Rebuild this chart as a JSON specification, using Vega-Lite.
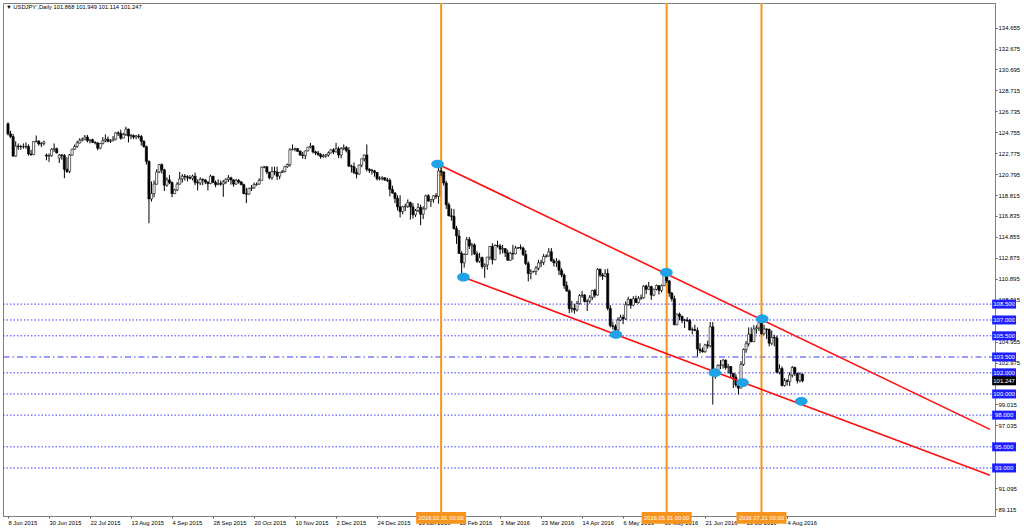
{
"$schema": "https://vega.github.io/schema/vega-lite/v6.json",
"width": 992, "height": 513,
"autosize": {"type": "none"},
"padding": {"left": 3, "top": 3, "right": 29, "bottom": 15},
"background": "white",
"config": {"view": {"stroke": "#7f7f7f", "strokeWidth": 1}, "font": "Liberation Sans", "axis": {"labelOverlap": false, "title": null, "grid": false, "labelFlush": false, "labelBound": false, "labelFont": "Liberation Sans", "labelColor": "black", "tickSize": 2, "tickColor": "#555", "labelPadding": 1, "domainColor": "#7f7f7f"}},
"title": {"text": "▼ USDJPY',Daily  101.868 101.949 101.114 101.247", "anchor": "start", "orient": "top", "frame": "group", "offset": -13, "baseline": "alphabetic", "fontSize": 5.8, "fontWeight": "normal", "font": "Liberation Sans", "color": "black", "dx": 3},
"datasets": {
"candles": [
{"i":0,"o":125.55,"h":125.70,"l":124.45,"c":124.60},
{"i":1,"o":124.60,"h":124.90,"l":124.20,"c":124.35},
{"i":2,"o":124.35,"h":124.60,"l":122.46,"c":122.50},
{"i":3,"o":122.50,"h":123.90,"l":122.45,"c":123.45},
{"i":4,"o":123.45,"h":123.70,"l":123.09,"c":123.39},
{"i":5,"o":123.39,"h":123.57,"l":123.10,"c":123.40},
{"i":6,"o":123.40,"h":123.70,"l":123.20,"c":123.39},
{"i":7,"o":123.39,"h":123.80,"l":123.20,"c":123.43},
{"i":8,"o":123.43,"h":123.60,"l":122.55,"c":122.70},
{"i":9,"o":122.70,"h":123.10,"l":122.55,"c":122.63},
{"i":10,"o":122.63,"h":123.90,"l":122.60,"c":123.88},
{"i":11,"o":123.88,"h":124.45,"l":123.80,"c":123.92},
{"i":12,"o":123.92,"h":124.00,"l":123.50,"c":123.65},
{"i":13,"o":123.65,"h":123.80,"l":123.35,"c":123.70},
{"i":14,"o":123.70,"h":123.95,"l":123.50,"c":123.85},
{"i":15,"o":122.60,"h":122.75,"l":122.10,"c":122.50},
{"i":16,"o":122.50,"h":122.75,"l":121.95,"c":122.55},
{"i":17,"o":122.55,"h":123.25,"l":122.45,"c":123.15},
{"i":18,"o":123.15,"h":123.70,"l":122.90,"c":123.20},
{"i":19,"o":123.20,"h":123.30,"l":122.75,"c":122.80},
{"i":20,"o":122.30,"h":122.70,"l":121.85,"c":122.60},
{"i":21,"o":122.60,"h":122.70,"l":122.15,"c":122.55},
{"i":22,"o":122.55,"h":122.70,"l":120.41,"c":121.25},
{"i":23,"o":121.25,"h":122.40,"l":120.90,"c":121.05},
{"i":24,"o":121.05,"h":122.70,"l":120.90,"c":122.60},
{"i":25,"o":122.60,"h":123.20,"l":122.55,"c":123.15},
{"i":26,"o":123.15,"h":123.60,"l":123.10,"c":123.40},
{"i":27,"o":123.40,"h":123.95,"l":123.30,"c":123.75},
{"i":28,"o":123.75,"h":124.20,"l":123.70,"c":124.00},
{"i":29,"o":124.00,"h":124.25,"l":123.90,"c":124.10},
{"i":30,"o":124.10,"h":124.50,"l":124.00,"c":124.30},
{"i":31,"o":124.30,"h":124.50,"l":123.80,"c":123.95},
{"i":32,"o":123.95,"h":124.10,"l":123.70,"c":124.05},
{"i":33,"o":124.05,"h":124.15,"l":123.75,"c":123.80},
{"i":34,"o":123.80,"h":123.90,"l":123.60,"c":123.75},
{"i":35,"o":123.75,"h":123.80,"l":123.05,"c":123.25},
{"i":36,"o":123.25,"h":123.75,"l":123.15,"c":123.70},
{"i":37,"o":123.70,"h":124.30,"l":123.60,"c":123.95},
{"i":38,"o":123.95,"h":124.55,"l":123.80,"c":124.10},
{"i":39,"o":124.10,"h":124.35,"l":123.80,"c":123.90},
{"i":40,"o":123.90,"h":124.10,"l":123.75,"c":123.95},
{"i":41,"o":123.95,"h":124.40,"l":123.90,"c":124.10},
{"i":42,"o":124.10,"h":124.75,"l":124.00,"c":124.70},
{"i":43,"o":124.70,"h":124.85,"l":124.40,"c":124.65},
{"i":44,"o":124.65,"h":125.00,"l":124.05,"c":124.20},
{"i":45,"o":124.20,"h":124.70,"l":124.20,"c":124.55},
{"i":46,"o":124.55,"h":125.28,"l":124.40,"c":125.05},
{"i":47,"o":125.05,"h":125.10,"l":123.80,"c":124.40},
{"i":48,"o":124.40,"h":124.60,"l":124.10,"c":124.45},
{"i":49,"o":124.45,"h":124.55,"l":124.10,"c":124.30},
{"i":50,"o":124.30,"h":124.50,"l":124.10,"c":124.40},
{"i":51,"o":124.40,"h":124.60,"l":124.15,"c":124.35},
{"i":52,"o":124.35,"h":124.50,"l":123.50,"c":123.90},
{"i":53,"o":123.90,"h":124.00,"l":123.30,"c":123.40},
{"i":54,"o":123.40,"h":123.50,"l":121.70,"c":122.00},
{"i":55,"o":122.00,"h":122.10,"l":116.15,"c":118.45},
{"i":56,"o":118.45,"h":120.10,"l":118.20,"c":118.95},
{"i":57,"o":118.95,"h":120.20,"l":118.60,"c":119.85},
{"i":58,"o":119.85,"h":121.25,"l":119.80,"c":121.00},
{"i":59,"o":121.00,"h":121.75,"l":120.90,"c":121.70},
{"i":60,"o":121.70,"h":121.80,"l":120.85,"c":121.20},
{"i":61,"o":121.20,"h":121.30,"l":119.20,"c":119.75},
{"i":62,"o":119.75,"h":120.50,"l":119.60,"c":120.25},
{"i":63,"o":120.25,"h":120.70,"l":119.85,"c":120.00},
{"i":64,"o":120.00,"h":120.10,"l":118.60,"c":118.95},
{"i":65,"o":118.95,"h":119.40,"l":118.90,"c":119.30},
{"i":66,"o":119.30,"h":120.05,"l":119.20,"c":119.85},
{"i":67,"o":119.85,"h":121.00,"l":119.80,"c":120.35},
{"i":68,"o":120.35,"h":120.80,"l":120.00,"c":120.60},
{"i":69,"o":120.60,"h":120.80,"l":120.20,"c":120.55},
{"i":70,"o":120.55,"h":120.70,"l":120.10,"c":120.45},
{"i":71,"o":120.45,"h":120.70,"l":120.30,"c":120.40},
{"i":72,"o":120.40,"h":120.75,"l":120.20,"c":120.60},
{"i":73,"o":120.60,"h":120.95,"l":119.75,"c":120.00},
{"i":74,"o":120.00,"h":120.30,"l":119.25,"c":119.95},
{"i":75,"o":119.95,"h":120.50,"l":119.75,"c":120.30},
{"i":76,"o":120.30,"h":120.40,"l":119.75,"c":120.25},
{"i":77,"o":120.25,"h":120.30,"l":119.85,"c":120.05},
{"i":78,"o":120.05,"h":120.10,"l":119.25,"c":119.90},
{"i":79,"o":119.90,"h":120.75,"l":119.85,"c":120.60},
{"i":80,"o":120.60,"h":120.60,"l":119.95,"c":120.00},
{"i":81,"o":120.00,"h":120.20,"l":119.55,"c":119.80},
{"i":82,"o":119.80,"h":120.30,"l":119.75,"c":119.90},
{"i":83,"o":119.90,"h":120.20,"l":119.70,"c":119.85},
{"i":84,"o":119.85,"h":120.25,"l":118.65,"c":120.05},
{"i":85,"o":120.05,"h":120.40,"l":119.85,"c":120.30},
{"i":86,"o":120.30,"h":120.70,"l":120.05,"c":120.45},
{"i":87,"o":120.45,"h":120.55,"l":119.80,"c":120.25},
{"i":88,"o":120.25,"h":120.30,"l":119.60,"c":119.85},
{"i":89,"o":119.85,"h":120.35,"l":119.80,"c":120.20},
{"i":90,"o":120.20,"h":120.35,"l":119.90,"c":120.05},
{"i":91,"o":120.05,"h":120.15,"l":119.75,"c":119.80},
{"i":92,"o":119.80,"h":119.90,"l":118.90,"c":118.95},
{"i":93,"o":118.95,"h":119.50,"l":118.05,"c":118.90},
{"i":94,"o":118.90,"h":119.50,"l":118.85,"c":119.45},
{"i":95,"o":119.45,"h":119.75,"l":119.20,"c":119.50},
{"i":96,"o":119.50,"h":120.00,"l":119.40,"c":119.80},
{"i":97,"o":119.80,"h":120.00,"l":119.70,"c":119.85},
{"i":98,"o":119.85,"h":120.40,"l":119.80,"c":120.20},
{"i":99,"o":120.20,"h":121.50,"l":120.20,"c":121.45},
{"i":100,"o":121.45,"h":121.55,"l":121.35,"c":121.50},
{"i":101,"o":121.50,"h":121.50,"l":120.80,"c":121.00},
{"i":102,"o":121.00,"h":121.00,"l":120.30,"c":120.45},
{"i":103,"o":120.45,"h":121.50,"l":120.25,"c":121.05},
{"i":104,"o":121.05,"h":121.50,"l":120.70,"c":121.00},
{"i":105,"o":121.00,"h":121.50,"l":120.25,"c":120.60},
{"i":106,"o":120.60,"h":121.00,"l":120.30,"c":120.95},
{"i":107,"o":120.95,"h":121.20,"l":120.90,"c":121.05},
{"i":108,"o":121.05,"h":121.55,"l":120.95,"c":121.50},
{"i":109,"o":121.50,"h":121.80,"l":121.40,"c":121.70},
{"i":110,"o":121.70,"h":123.25,"l":121.50,"c":123.10},
{"i":111,"o":123.10,"h":123.60,"l":123.05,"c":123.15},
{"i":112,"o":123.15,"h":123.30,"l":122.95,"c":123.20},
{"i":113,"o":123.20,"h":123.25,"l":122.90,"c":122.95},
{"i":114,"o":122.95,"h":123.05,"l":122.55,"c":122.60},
{"i":115,"o":122.60,"h":122.90,"l":122.25,"c":122.55},
{"i":116,"o":122.55,"h":123.00,"l":122.20,"c":123.00},
{"i":117,"o":123.00,"h":123.35,"l":122.95,"c":123.35},
{"i":118,"o":123.35,"h":123.75,"l":123.25,"c":123.45},
{"i":119,"o":123.45,"h":123.55,"l":122.75,"c":122.90},
{"i":120,"o":122.90,"h":123.00,"l":122.60,"c":122.80},
{"i":121,"o":122.80,"h":123.00,"l":122.50,"c":122.65},
{"i":122,"o":122.65,"h":122.80,"l":122.25,"c":122.45},
{"i":123,"o":122.45,"h":122.70,"l":122.35,"c":122.50},
{"i":124,"o":122.50,"h":122.70,"l":122.35,"c":122.60},
{"i":125,"o":122.60,"h":122.95,"l":122.45,"c":122.80},
{"i":126,"o":122.80,"h":123.15,"l":122.75,"c":123.10},
{"i":127,"o":123.10,"h":123.25,"l":122.70,"c":122.90},
{"i":128,"o":122.90,"h":123.75,"l":122.85,"c":123.20},
{"i":129,"o":123.20,"h":123.40,"l":122.30,"c":122.60},
{"i":130,"o":122.60,"h":123.35,"l":122.30,"c":123.20},
{"i":131,"o":123.20,"h":123.60,"l":123.05,"c":123.30},
{"i":132,"o":123.30,"h":123.45,"l":122.85,"c":123.05},
{"i":133,"o":123.05,"h":123.35,"l":121.50,"c":121.55},
{"i":134,"o":121.55,"h":121.70,"l":120.95,"c":121.50},
{"i":135,"o":121.50,"h":121.90,"l":120.80,"c":120.95},
{"i":136,"o":120.95,"h":121.35,"l":120.40,"c":120.80},
{"i":137,"o":120.80,"h":121.70,"l":120.75,"c":121.65},
{"i":138,"o":121.65,"h":122.25,"l":121.45,"c":122.25},
{"i":139,"o":122.25,"h":122.65,"l":122.00,"c":122.60},
{"i":140,"o":122.60,"h":123.60,"l":121.05,"c":121.25},
{"i":141,"o":121.25,"h":121.35,"l":120.90,"c":121.15},
{"i":142,"o":121.15,"h":121.30,"l":120.75,"c":121.10},
{"i":143,"o":121.10,"h":121.20,"l":120.55,"c":120.95},
{"i":144,"o":120.95,"h":121.00,"l":120.20,"c":120.35},
{"i":145,"o":120.35,"h":120.60,"l":120.20,"c":120.40},
{"i":146,"o":120.40,"h":120.60,"l":120.20,"c":120.45},
{"i":147,"o":120.45,"h":120.50,"l":120.15,"c":120.25},
{"i":148,"o":120.25,"h":120.45,"l":120.05,"c":120.20},
{"i":149,"o":120.20,"h":120.40,"l":118.70,"c":119.35},
{"i":150,"o":119.35,"h":119.70,"l":118.95,"c":119.00},
{"i":151,"o":119.00,"h":119.10,"l":118.05,"c":118.50},
{"i":152,"o":118.50,"h":118.80,"l":117.35,"c":117.70},
{"i":153,"o":117.70,"h":118.80,"l":116.70,"c":117.25},
{"i":154,"o":117.25,"h":117.80,"l":117.00,"c":117.70},
{"i":155,"o":117.70,"h":118.00,"l":117.30,"c":117.75},
{"i":156,"o":117.75,"h":118.40,"l":117.60,"c":118.10},
{"i":157,"o":118.10,"h":118.20,"l":116.50,"c":117.70},
{"i":158,"o":117.70,"h":118.05,"l":116.60,"c":116.95},
{"i":159,"o":116.95,"h":117.50,"l":116.75,"c":117.35},
{"i":160,"o":117.35,"h":118.05,"l":117.20,"c":117.65},
{"i":161,"o":117.65,"h":117.90,"l":115.97,"c":117.00},
{"i":162,"o":117.00,"h":117.75,"l":116.55,"c":117.50},
{"i":163,"o":117.50,"h":118.85,"l":117.45,"c":118.75},
{"i":164,"o":118.75,"h":118.90,"l":118.20,"c":118.25},
{"i":165,"o":118.25,"h":118.45,"l":117.70,"c":118.40},
{"i":166,"o":118.40,"h":118.80,"l":118.10,"c":118.75},
{"i":167,"o":118.75,"h":119.00,"l":118.45,"c":118.70},
{"i":168,"o":118.70,"h":121.69,"l":118.00,"c":121.10},
{"i":169,"o":121.10,"h":121.50,"l":120.60,"c":121.00},
{"i":170,"o":121.00,"h":121.05,"l":119.70,"c":119.95},
{"i":171,"o":119.95,"h":120.15,"l":117.50,"c":117.90},
{"i":172,"o":117.90,"h":118.10,"l":116.80,"c":116.85},
{"i":173,"o":116.85,"h":117.55,"l":116.40,"c":116.80},
{"i":174,"o":116.80,"h":117.50,"l":115.55,"c":115.65},
{"i":175,"o":115.65,"h":115.90,"l":114.20,"c":114.95},
{"i":176,"o":114.95,"h":115.50,"l":113.25,"c":113.30},
{"i":177,"o":113.30,"h":113.50,"l":110.98,"c":112.40},
{"i":178,"o":112.40,"h":113.30,"l":111.95,"c":113.20},
{"i":179,"o":113.20,"h":114.85,"l":113.15,"c":114.60},
{"i":180,"o":114.60,"h":114.85,"l":113.70,"c":114.00},
{"i":181,"o":114.00,"h":114.30,"l":113.10,"c":114.10},
{"i":182,"o":114.10,"h":114.25,"l":113.15,"c":113.25},
{"i":183,"o":113.25,"h":113.50,"l":112.40,"c":112.55},
{"i":184,"o":112.55,"h":113.35,"l":112.40,"c":112.90},
{"i":185,"o":112.90,"h":113.00,"l":111.85,"c":112.05},
{"i":186,"o":112.05,"h":112.35,"l":110.98,"c":112.20},
{"i":187,"o":112.20,"h":112.95,"l":111.75,"c":112.95},
{"i":188,"o":112.95,"h":114.00,"l":112.70,"c":113.95},
{"i":189,"o":113.95,"h":114.25,"l":112.25,"c":112.70},
{"i":190,"o":112.70,"h":114.15,"l":112.65,"c":114.05},
{"i":191,"o":114.05,"h":114.50,"l":113.85,"c":114.00},
{"i":192,"o":114.00,"h":114.20,"l":113.20,"c":113.70},
{"i":193,"o":113.70,"h":114.10,"l":113.30,"c":113.75},
{"i":194,"o":113.75,"h":113.80,"l":112.95,"c":113.35},
{"i":195,"o":113.35,"h":113.65,"l":112.60,"c":112.65},
{"i":196,"o":112.65,"h":113.45,"l":112.60,"c":113.30},
{"i":197,"o":113.30,"h":114.10,"l":112.70,"c":113.25},
{"i":198,"o":113.25,"h":114.00,"l":113.20,"c":113.80},
{"i":199,"o":113.80,"h":113.90,"l":113.70,"c":113.85},
{"i":200,"o":113.85,"h":114.15,"l":113.65,"c":113.80},
{"i":201,"o":113.80,"h":113.95,"l":113.05,"c":113.20},
{"i":202,"o":113.20,"h":113.60,"l":112.20,"c":112.35},
{"i":203,"o":112.35,"h":112.55,"l":110.65,"c":111.40},
{"i":204,"o":111.40,"h":111.80,"l":110.85,"c":111.55},
{"i":205,"o":111.55,"h":111.65,"l":111.50,"c":111.60},
{"i":206,"o":111.60,"h":112.10,"l":111.25,"c":111.90},
{"i":207,"o":111.90,"h":112.70,"l":111.70,"c":112.40},
{"i":208,"o":112.40,"h":112.70,"l":112.00,"c":112.45},
{"i":209,"o":112.45,"h":113.25,"l":112.20,"c":113.00},
{"i":210,"o":113.00,"h":113.20,"l":112.90,"c":113.05},
{"i":211,"o":113.05,"h":113.80,"l":113.00,"c":113.45},
{"i":212,"o":113.45,"h":113.80,"l":112.50,"c":112.60},
{"i":213,"o":112.60,"h":112.80,"l":112.05,"c":112.40},
{"i":214,"o":112.40,"h":112.85,"l":112.00,"c":112.55},
{"i":215,"o":112.55,"h":112.70,"l":111.25,"c":111.70},
{"i":216,"o":111.70,"h":111.90,"l":111.05,"c":111.25},
{"i":217,"o":111.25,"h":111.40,"l":109.95,"c":110.25},
{"i":218,"o":110.25,"h":110.65,"l":109.65,"c":109.75},
{"i":219,"o":109.75,"h":109.90,"l":107.65,"c":108.05},
{"i":220,"o":108.05,"h":108.80,"l":107.70,"c":108.10},
{"i":221,"o":108.10,"h":108.50,"l":107.60,"c":107.95},
{"i":222,"o":107.95,"h":108.80,"l":107.80,"c":108.55},
{"i":223,"o":108.55,"h":109.45,"l":108.45,"c":109.30},
{"i":224,"o":109.30,"h":109.75,"l":109.10,"c":109.35},
{"i":225,"o":109.35,"h":109.45,"l":108.65,"c":108.75},
{"i":226,"o":108.75,"h":108.95,"l":107.85,"c":108.80},
{"i":227,"o":108.80,"h":109.35,"l":108.55,"c":109.15},
{"i":228,"o":109.15,"h":109.85,"l":108.90,"c":109.80},
{"i":229,"o":109.80,"h":109.95,"l":109.10,"c":109.35},
{"i":230,"o":109.35,"h":111.90,"l":109.30,"c":111.80},
{"i":231,"o":111.80,"h":111.85,"l":111.05,"c":111.25},
{"i":232,"o":111.25,"h":111.45,"l":110.80,"c":111.15},
{"i":233,"o":111.15,"h":111.80,"l":111.05,"c":111.40},
{"i":234,"o":111.40,"h":111.85,"l":107.90,"c":108.10},
{"i":235,"o":108.10,"h":108.40,"l":106.30,"c":106.45},
{"i":236,"o":106.45,"h":106.85,"l":106.10,"c":106.40},
{"i":237,"o":106.40,"h":106.60,"l":105.55,"c":106.05},
{"i":238,"o":106.05,"h":107.25,"l":105.95,"c":107.00},
{"i":239,"o":107.00,"h":107.50,"l":106.90,"c":107.25},
{"i":240,"o":107.25,"h":107.50,"l":106.60,"c":107.10},
{"i":241,"o":107.10,"h":108.75,"l":107.00,"c":108.45},
{"i":242,"o":108.45,"h":109.20,"l":108.35,"c":108.95},
{"i":243,"o":108.95,"h":109.00,"l":108.05,"c":108.40},
{"i":244,"o":108.40,"h":109.25,"l":108.30,"c":109.00},
{"i":245,"o":109.00,"h":109.30,"l":108.60,"c":108.65},
{"i":246,"o":108.65,"h":109.25,"l":108.55,"c":109.05},
{"i":247,"o":109.05,"h":109.40,"l":108.90,"c":109.10},
{"i":248,"o":109.10,"h":110.30,"l":109.00,"c":110.20},
{"i":249,"o":110.20,"h":110.35,"l":109.45,"c":109.90},
{"i":250,"o":109.90,"h":110.60,"l":109.85,"c":110.15},
{"i":251,"o":110.15,"h":110.25,"l":108.90,"c":109.35},
{"i":252,"o":109.35,"h":109.95,"l":109.25,"c":109.90},
{"i":253,"o":109.90,"h":110.35,"l":109.80,"c":110.25},
{"i":254,"o":110.25,"h":110.25,"l":109.40,"c":109.80},
{"i":255,"o":109.80,"h":110.35,"l":109.60,"c":110.25},
{"i":256,"o":110.25,"h":111.40,"l":110.20,"c":111.30},
{"i":257,"o":111.30,"h":111.45,"l":110.50,"c":110.70},
{"i":258,"o":110.70,"h":110.75,"l":109.20,"c":109.55},
{"i":259,"o":109.55,"h":109.65,"l":108.75,"c":109.00},
{"i":260,"o":109.00,"h":109.30,"l":106.50,"c":106.55},
{"i":261,"o":106.55,"h":107.60,"l":106.50,"c":107.55},
{"i":262,"o":107.55,"h":107.70,"l":107.00,"c":107.35},
{"i":263,"o":107.35,"h":107.40,"l":106.70,"c":106.95},
{"i":264,"o":106.95,"h":107.10,"l":106.25,"c":107.00},
{"i":265,"o":107.00,"h":107.25,"l":106.80,"c":106.95},
{"i":266,"o":106.95,"h":107.10,"l":106.00,"c":106.05},
{"i":267,"o":106.05,"h":106.30,"l":105.65,"c":106.10},
{"i":268,"o":106.10,"h":106.55,"l":105.95,"c":106.00},
{"i":269,"o":106.00,"h":106.30,"l":103.55,"c":104.25},
{"i":270,"o":104.25,"h":104.80,"l":103.85,"c":104.10},
{"i":271,"o":104.10,"h":104.40,"l":103.90,"c":104.00},
{"i":272,"o":104.00,"h":104.75,"l":103.90,"c":104.65},
{"i":273,"o":104.65,"h":105.05,"l":104.30,"c":104.55},
{"i":274,"o":104.55,"h":106.80,"l":104.40,"c":106.35},
{"i":275,"o":106.35,"h":106.80,"l":99.00,"c":102.25},
{"i":276,"o":102.25,"h":102.40,"l":101.45,"c":101.85},
{"i":277,"o":101.85,"h":102.80,"l":101.80,"c":102.70},
{"i":278,"o":102.70,"h":103.20,"l":102.35,"c":102.75},
{"i":279,"o":102.75,"h":103.30,"l":102.40,"c":103.20},
{"i":280,"o":103.20,"h":103.25,"l":102.30,"c":102.50},
{"i":281,"o":102.50,"h":102.85,"l":101.95,"c":102.60},
{"i":282,"o":102.60,"h":102.65,"l":101.55,"c":101.95},
{"i":283,"o":101.95,"h":101.95,"l":100.55,"c":101.60},
{"i":284,"o":101.60,"h":101.90,"l":100.65,"c":100.85},
{"i":285,"o":100.85,"h":101.15,"l":99.95,"c":100.55},
{"i":286,"o":100.55,"h":103.10,"l":100.55,"c":102.80},
{"i":287,"o":102.80,"h":104.30,"l":102.65,"c":104.20},
{"i":288,"o":104.20,"h":105.00,"l":103.90,"c":104.75},
{"i":289,"o":104.75,"h":106.30,"l":104.50,"c":105.65},
{"i":290,"o":105.65,"h":106.30,"l":104.90,"c":104.95},
{"i":291,"o":104.95,"h":106.50,"l":104.90,"c":106.15},
{"i":292,"o":106.15,"h":106.50,"l":105.70,"c":106.25},
{"i":293,"o":106.25,"h":106.85,"l":105.95,"c":106.75},
{"i":294,"o":106.75,"h":107.50,"l":105.60,"c":105.70},
{"i":295,"o":105.70,"h":106.55,"l":105.55,"c":106.15},
{"i":296,"o":106.15,"h":106.20,"l":105.20,"c":106.10},
{"i":297,"o":106.10,"h":106.20,"l":104.50,"c":104.80},
{"i":298,"o":104.80,"h":106.00,"l":104.60,"c":105.35},
{"i":299,"o":105.35,"h":105.60,"l":104.50,"c":105.30},
{"i":300,"o":105.30,"h":105.50,"l":101.95,"c":102.05},
{"i":301,"o":102.05,"h":102.80,"l":101.85,"c":102.40},
{"i":302,"o":102.40,"h":102.60,"l":100.70,"c":100.80},
{"i":303,"o":100.80,"h":101.50,"l":100.70,"c":101.25},
{"i":304,"o":101.25,"h":101.40,"l":100.80,"c":101.20},
{"i":305,"o":101.20,"h":102.05,"l":100.75,"c":101.80},
{"i":306,"o":101.80,"h":102.65,"l":101.55,"c":102.50},
{"i":307,"o":102.50,"h":102.60,"l":101.70,"c":101.95},
{"i":308,"o":101.95,"h":102.00,"l":101.00,"c":101.25},
{"i":309,"o":101.25,"h":102.05,"l":101.10,"c":101.87},
{"i":310,"o":101.868,"h":101.949,"l":101.114,"c":101.247}
],
"levels": [
{"level":108.5,"style":"dot","t":"108.500"},
{"level":107.0,"style":"dot","t":"107.000"},
{"level":105.5,"style":"dot","t":"105.500"},
{"level":103.5,"style":"dashdot","t":"103.500"},
{"level":102.0,"style":"dot","t":"102.000"},
{"level":100.0,"style":"dot","t":"100.000"},
{"level":98.0,"style":"dot","t":"98.000"},
{"level":95.0,"style":"dot","t":"95.000"},
{"level":93.0,"style":"dot","t":"93.000"}
],
"price": [{"p":101.247,"t":"101.247"}],
"vlines": [
{"i":169,"label":"2016.02.01 00:00"},
{"i":257,"label":"2016.05.31 00:00"},
{"i":294,"label":"2016.07.21 00:00"}
],
"trend": [
{"line":"upper","i":167.6,"p":121.76},
{"line":"upper","i":383.16,"p":96.65},
{"line":"lower","i":177.7,"p":111.05},
{"line":"lower","i":383.16,"p":92.3}
],
"anchors": [
{"i":167.6,"p":121.76},
{"i":177.7,"p":111.05},
{"i":237.2,"p":105.62},
{"i":256.9,"p":111.5},
{"i":275.8,"p":102.0},
{"i":286.6,"p":101.07},
{"i":294.3,"p":107.1},
{"i":309.5,"p":99.3}
]
},
"layer": [
{
"data": {"name": "levels"},
"mark": {"type": "rule", "color": "#3a3aff", "strokeWidth": 1},
"encoding": {
"y": {"field": "level", "type": "quantitative", "scale": {"domain": [88.93, 136.51], "nice": false, "zero": false},
"axis": {"orient": "right", "tickCount": 40, "values": [134.655,132.675,130.695,128.715,126.735,124.755,122.775,120.795,118.815,116.835,114.855,112.875,110.895,108.915,104.955,102.975,99.015,97.035,91.095,89.115], "format": ".3f", "labelFontSize": 6, "labelOverlap": false}},
"strokeDash": {"field": "style", "type": "nominal", "scale": {"domain": ["dot", "dashdot"], "range": [[1.5, 2], [6, 3, 1.5, 3]]}, "legend": null}
}
},
{
"data": {"name": "vlines"},
"mark": {"type": "rule", "color": "#f7941d", "strokeWidth": 2},
"encoding": {
"x": {"field": "i", "type": "quantitative", "scale": {"domain": [0, 383.16], "nice": false, "zero": false},
"axis": {"orient": "bottom", "tickCount": 40, "values": [0,16,32,48,64,80,96,112,128,144,160,176,192,208,224,240,256,272,288,304], "labelExpr": "['8 Jun 2015','30 Jun 2015','22 Jul 2015','13 Aug 2015','4 Sep 2015','28 Sep 2015','20 Oct 2015','10 Nov 2015','2 Dec 2015','24 Dec 2015','19 Jan 2016','10 Feb 2016','3 Mar 2016','23 Mar 2016','14 Apr 2016','6 May 2016','30 May 2016','21 Jun 2016','13 Jul 2016','4 Aug 2016'][round(datum.value/16)]", "labelAlign": "left", "labelFontSize": 5.8, "labelOverlap": false}}
}
},
{
"data": {"name": "candles"},
"mark": {"type": "rule", "color": "black", "strokeWidth": 1, "clip": true},
"encoding": {
"x": {"field": "i", "type": "quantitative", "scale": {"domain": [0, 383.16], "nice": false, "zero": false}},
"y": {"field": "l", "type": "quantitative", "scale": {"domain": [88.93, 136.51], "nice": false, "zero": false}},
"y2": {"field": "h"}
}
},
{
"data": {"name": "candles"},
"mark": {"type": "bar", "orient": "vertical", "size": 2.2, "stroke": "black", "strokeWidth": 0.6, "clip": true},
"encoding": {
"x": {"field": "i", "type": "quantitative", "scale": {"domain": [0, 383.16], "nice": false, "zero": false}},
"y": {"field": "o", "type": "quantitative", "scale": {"domain": [88.93, 136.51], "nice": false, "zero": false}},
"y2": {"field": "c"},
"fill": {"condition": {"test": "datum.c >= datum.o", "value": "white"}, "value": "black"}
}
},
{
"data": {"name": "trend"},
"mark": {"type": "line", "color": "#ff1010", "strokeWidth": 1.6, "clip": true},
"encoding": {
"x": {"field": "i", "type": "quantitative", "scale": {"domain": [0, 383.16], "nice": false, "zero": false}},
"y": {"field": "p", "type": "quantitative", "scale": {"domain": [88.93, 136.51], "nice": false, "zero": false}},
"detail": {"field": "line", "type": "nominal"}
}
},
{
"data": {"name": "anchors"},
"mark": {"type": "point", "shape": "M -1 0 A 1 0.68 0 1 0 1 0 A 1 0.68 0 1 0 -1 0 Z", "size": 160, "filled": true, "color": "#1fa3e6", "opacity": 1},
"encoding": {
"x": {"field": "i", "type": "quantitative", "scale": {"domain": [0, 383.16], "nice": false, "zero": false}},
"y": {"field": "p", "type": "quantitative", "scale": {"domain": [88.93, 136.51], "nice": false, "zero": false}}
}
},
{
"data": {"name": "levels"},
"mark": {"type": "bar", "orient": "horizontal", "size": 9, "color": "#1e1eff"},
"encoding": {
"y": {"field": "level", "type": "quantitative", "scale": {"domain": [88.93, 136.51], "nice": false, "zero": false}},
"x": {"datum": 384.0, "type": "quantitative", "scale": {"domain": [0, 383.16], "nice": false, "zero": false}},
"x2": {"datum": 393.3}
}
},
{
"data": {"name": "price"},
"mark": {"type": "bar", "orient": "horizontal", "size": 9, "color": "black"},
"encoding": {
"y": {"field": "p", "type": "quantitative", "scale": {"domain": [88.93, 136.51], "nice": false, "zero": false}},
"x": {"datum": 384.0, "type": "quantitative", "scale": {"domain": [0, 383.16], "nice": false, "zero": false}},
"x2": {"datum": 393.3}
}
},
{
"data": {"name": "levels"},
"mark": {"type": "text", "color": "white", "fontSize": 6, "font": "Liberation Sans", "align": "center", "baseline": "middle"},
"encoding": {
"y": {"field": "level", "type": "quantitative", "scale": {"domain": [88.93, 136.51], "nice": false, "zero": false}},
"x": {"datum": 388.65, "type": "quantitative", "scale": {"domain": [0, 383.16], "nice": false, "zero": false}},
"text": {"field": "t"}
}
},
{
"data": {"name": "price"},
"mark": {"type": "text", "color": "white", "fontSize": 6, "font": "Liberation Sans", "align": "center", "baseline": "middle"},
"encoding": {
"y": {"field": "p", "type": "quantitative", "scale": {"domain": [88.93, 136.51], "nice": false, "zero": false}},
"x": {"datum": 388.65, "type": "quantitative", "scale": {"domain": [0, 383.16], "nice": false, "zero": false}},
"text": {"field": "t"}
}
},
{
"data": {"name": "vlines"},
"mark": {"type": "bar", "orient": "vertical", "size": 50, "color": "#f7941d"},
"encoding": {
"x": {"field": "i", "type": "quantitative", "scale": {"domain": [0, 383.16], "nice": false, "zero": false}},
"y": {"datum": 88.84, "type": "quantitative", "scale": {"domain": [88.93, 136.51], "nice": false, "zero": false}},
"y2": {"datum": 87.73}
}
},
{
"data": {"name": "vlines"},
"mark": {"type": "text", "color": "white", "fontSize": 5.8, "font": "Liberation Sans", "align": "center", "baseline": "middle"},
"encoding": {
"x": {"field": "i", "type": "quantitative", "scale": {"domain": [0, 383.16], "nice": false, "zero": false}},
"y": {"datum": 88.28, "type": "quantitative", "scale": {"domain": [88.93, 136.51], "nice": false, "zero": false}},
"text": {"field": "label"}
}
}
]
}
